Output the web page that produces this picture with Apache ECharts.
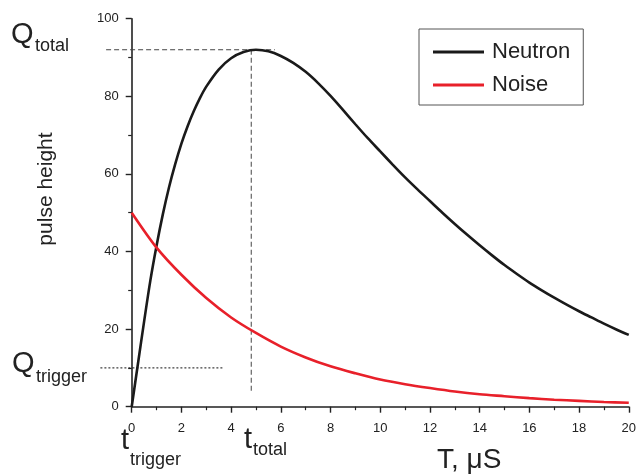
<!DOCTYPE html>
<html>
<head>
<meta charset="utf-8">
<script src="https://cdn.jsdelivr.net/npm/echarts@6/dist/echarts.min.js"></script>
<style>
  html, body { margin: 0; padding: 0; background: #fff; }
  #chart { width: 639px; height: 475px; }
</style>
</head>
<body>
<div id="chart"></div>
<script>
// Time samples (µs) and pulse heights for the neutron pulse
const neutronT = [0, 0.25, 0.5, 0.75, 1, 1.25, 1.5, 1.75, 2, 2.25, 2.5, 2.75, 3, 3.5, 4, 4.5, 5, 5.5, 6, 6.5,
  7, 7.5, 8, 8.5, 9, 9.5, 10, 10.5, 11, 11.5, 12, 12.5, 13, 13.5, 14, 14.5, 15, 15.5, 16, 16.5,
  17, 17.5, 18, 18.5, 19, 19.5, 20];
const neutronQ = [0, 11, 22, 32.5, 41.5, 49.5, 56.5, 62.5, 67.8, 72.3, 76.2, 79.6, 82.5, 86.9, 89.8, 91.4, 92, 91.6, 90.4, 88.6,
  86.3, 83.4, 80.1, 76.5, 72.8, 69.2, 65.8, 62.4, 59.1, 56.0, 53.0, 50.0, 47.1, 44.3, 41.6, 39.0, 36.5, 34.2, 32.0, 30.0,
  28.1, 26.3, 24.6, 23.0, 21.4, 19.9, 18.5];

// Noise pulse, sampled every 1 µs
const noiseT = [0, 1, 2, 3, 4, 5, 6, 7, 8, 9, 10, 11, 12, 13, 14, 15, 16, 17, 18, 19, 20];
const noiseQ = [50, 41, 34, 28, 23, 19, 15.5, 12.7, 10.4, 8.6, 7, 5.8, 4.8, 3.9, 3.2, 2.7, 2.2, 1.8, 1.5, 1.2, 1.0];

// Characteristic levels and times
const qTotal = 92;
const tTotal = 4.81;
const qTrigger = 10;

const xTicks = { min: 0, max: 20, interval: 2 };
const yTicks = { min: 0, max: 100, interval: 20 };

const FONT = '"Liberation Sans", Arial, sans-serif';

const pairs = (xs, ys) => xs.map((x, i) => [x, ys[i]]);

// Guide lines: [x1, y1, x2, y2, kind]
const guides = [
  [-1.03, qTotal, 5.76, qTotal, 'dash'],
  [tTotal, qTotal, tTotal, 3.5, 'dash'],
  [-1.26, qTrigger, 3.72, qTrigger, 'dot']
];

const chart = echarts.init(document.getElementById('chart'), null, { renderer: 'canvas' });

const axisCommon = {
  type: 'value',
  axisLine: { show: true, lineStyle: { color: '#222', width: 1.6 } },
  axisTick: { show: true, inside: false, length: 6, lineStyle: { color: '#222', width: 1.4 } },
  minorTick: { show: true, splitNumber: 2, length: 3.5, lineStyle: { color: '#222', width: 1.2 } },
  splitLine: { show: false },
  axisLabel: { color: '#222', fontSize: 13, fontFamily: FONT }
};

chart.setOption({
  animation: false,
  backgroundColor: '#fff',
  grid: { left: 131.7, right: 6.3, top: 18.7, bottom: 68.3, containLabel: false },
  xAxis: Object.assign({}, axisCommon, {
    min: xTicks.min, max: xTicks.max, interval: xTicks.interval,
    axisLabel: Object.assign({}, axisCommon.axisLabel, { margin: 15 })
  }),
  yAxis: Object.assign({}, axisCommon, {
    min: yTicks.min, max: yTicks.max, interval: yTicks.interval,
    axisLabel: Object.assign({}, axisCommon.axisLabel, { margin: 13 })
  }),
  legend: {
    orient: 'vertical',
    left: 419, top: 29,
    padding: [12, 13, 9, 14],
    itemGap: 11,
    itemWidth: 51, itemHeight: 3,
    borderColor: '#555', borderWidth: 1,
    icon: 'rect',
    textStyle: { fontSize: 22, fontFamily: FONT, color: '#222', lineHeight: 22, padding: [0, 0, 0, 3] },
    data: ['Neutron', 'Noise']
  },
  series: [
    {
      name: 'Neutron', type: 'line', data: pairs(neutronT, neutronQ),
      smooth: 0.3, showSymbol: false, symbol: 'none',
      lineStyle: { color: '#1a1a1a', width: 2.6 }, itemStyle: { color: '#1a1a1a' }, z: 3
    },
    {
      name: 'Noise', type: 'line', data: pairs(noiseT, noiseQ),
      smooth: 0.3, showSymbol: false, symbol: 'none',
      lineStyle: { color: '#e8202a', width: 2.6 }, itemStyle: { color: '#e8202a' }, z: 3
    },
    {
      type: 'custom', clip: false, silent: true, z: 1,
      data: guides,
      renderItem: function (params, api) {
        const p1 = api.coord([api.value(0), api.value(1)]);
        const p2 = api.coord([api.value(2), api.value(3)]);
        const kind = guides[params.dataIndex][4];
        return {
          type: 'line',
          shape: { x1: p1[0], y1: p1[1], x2: p2[0], y2: p2[1] },
          style: kind === 'dash'
            ? { stroke: '#444', lineWidth: 1, lineDash: [5, 3] }
            : { stroke: '#111', lineWidth: 1, lineDash: [2, 2] }
        };
      }
    }
  ],
  graphic: [
    { type: 'text', left: 11, top: 20, style: { text: 'Q', font: '29px ' + FONT, fill: '#222' } },
    { type: 'text', left: 35, top: 37, style: { text: 'total', font: '18px ' + FONT, fill: '#222' } },
    { type: 'text', left: 12, top: 349, style: { text: 'Q', font: '29px ' + FONT, fill: '#222' } },
    { type: 'text', left: 36, top: 368, style: { text: 'trigger', font: '18px ' + FONT, fill: '#222' } },
    { type: 'text', left: 121, top: 426, style: { text: 't', font: '29px ' + FONT, fill: '#222' } },
    { type: 'text', left: 130, top: 451, style: { text: 'trigger', font: '18px ' + FONT, fill: '#222' } },
    { type: 'text', left: 244, top: 425, style: { text: 't', font: '29px ' + FONT, fill: '#222' } },
    { type: 'text', left: 253, top: 441, style: { text: 'total', font: '18px ' + FONT, fill: '#222' } },
    { type: 'text', left: 437, top: 446, style: { text: 'T, μS', font: '28px ' + FONT, fill: '#222' } },
    {
      type: 'text', x: 46, y: 189, rotation: Math.PI / 2,
      style: { text: 'pulse height', font: '21px ' + FONT, fill: '#222', align: 'center', verticalAlign: 'middle' }
    }
  ]
});
</script>
</body>
</html>
